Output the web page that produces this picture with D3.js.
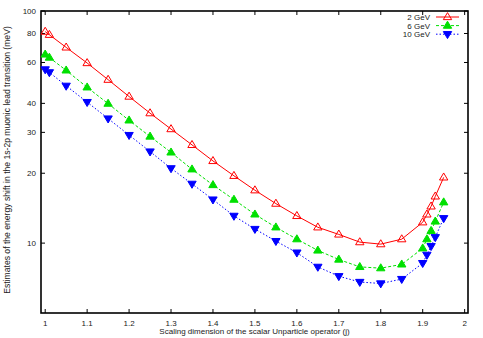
<!DOCTYPE html>
<html>
<head>
<meta charset="utf-8">
<script src="https://cdn.jsdelivr.net/npm/d3@7"></script>
<style>
  body { margin: 0; background: #fff; }
  text { font-family: "Liberation Sans", Arial, sans-serif; }
</style>
</head>
<body>
<div id="chart"></div>
<script>
// scaling dimension j
var xs = [1, 1.01, 1.05, 1.1, 1.15, 1.2, 1.25, 1.3, 1.35, 1.4, 1.45, 1.5, 1.55, 1.6,
          1.65, 1.7, 1.75, 1.8, 1.85, 1.9, 1.91, 1.92, 1.93, 1.95];
// energy shift estimates (meV)
var gev2 = [81.5, 79, 69.7, 59.7, 50.6, 42.8, 36.3, 31.0, 26.5, 22.6, 19.5, 16.9, 14.8, 13.1,
            11.7, 10.9, 10.1, 9.9, 10.4, 12.3, 13.3, 14.4, 15.9, 19.2];
var gev6 = [65, 63, 55.5, 46.9, 39.9, 33.8, 28.8, 24.6, 20.8, 17.8, 15.4, 13.3, 11.7, 10.4,
            9.3, 8.5, 7.9, 7.8, 8.1, 9.5, 10.4, 11.3, 12.4, 15.0];
var gev10 = [56, 54.4, 47.6, 40.5, 34.4, 29.2, 24.8, 21.0, 18.0, 15.4, 13.1, 11.5, 10.2, 9.1,
             7.9, 7.2, 6.8, 6.7, 7.0, 8.2, 8.9, 9.7, 10.6, 12.8];
var seriesNames = ["2 GeV", "6 GeV", "10 GeV"];
var xTicks = [1, 1.1, 1.2, 1.3, 1.4, 1.5, 1.6, 1.7, 1.8, 1.9, 2];
var yTicks = [10, 20, 30, 40, 60, 80, 100];

var margin = { top: 11, right: 15, bottom: 25, left: 41 },
    width = 483 - margin.left - margin.right,
    height = 338 - margin.top - margin.bottom;

var svg = d3.select("#chart").append("svg")
    .attr("width", 483)
    .attr("height", 338);

var g = svg.append("g")
    .attr("transform", "translate(" + margin.left + "," + margin.top + ")");

var x = d3.scaleLinear().domain([0.99, 2.008]).range([0, width]);
var y = d3.scaleLog().domain([5, 100]).range([height, 0]);

// ticks (inward, all four sides)
var tickLen = 4;
xTicks.forEach(function (t) {
    g.append("line").attr("x1", x(t)).attr("x2", x(t))
        .attr("y1", height).attr("y2", height - tickLen)
        .attr("stroke", "#000").attr("stroke-width", 1);
    g.append("line").attr("x1", x(t)).attr("x2", x(t))
        .attr("y1", 0).attr("y2", tickLen)
        .attr("stroke", "#000").attr("stroke-width", 1);
    g.append("text").attr("x", x(t)).attr("y", height + 13)
        .attr("text-anchor", "middle").attr("font-size", 8).attr("fill", "#222")
        .text(t);
});
yTicks.forEach(function (t) {
    g.append("line").attr("x1", 0).attr("x2", tickLen)
        .attr("y1", y(t)).attr("y2", y(t))
        .attr("stroke", "#000").attr("stroke-width", 1);
    g.append("line").attr("x1", width).attr("x2", width - tickLen)
        .attr("y1", y(t)).attr("y2", y(t))
        .attr("stroke", "#000").attr("stroke-width", 1);
    g.append("text").attr("x", -5).attr("y", y(t) + 3)
        .attr("text-anchor", "end").attr("font-size", 8).attr("fill", "#222")
        .text(t);
});

// frame
g.append("rect").attr("x", 0).attr("y", 0)
    .attr("width", width).attr("height", height)
    .attr("fill", "none").attr("stroke", "#000").attr("stroke-width", 1.6);

// axis labels
svg.append("text")
    .attr("x", margin.left + width / 2)
    .attr("y", 334)
    .attr("text-anchor", "middle").attr("font-size", 8).attr("fill", "#222")
    .text("Scaling dimension of the scalar Unparticle operator (j)");

svg.append("text")
    .attr("transform", "translate(10," + (margin.top + height / 2 - 2) + ") rotate(-90)")
    .attr("text-anchor", "middle").attr("font-size", 8.6).attr("fill", "#222")
    .text("Estimates of the energy shift in the 1s-2p muonic lead transition (meV)");

var series = [
    { name: seriesNames[0], vals: gev2, color: "#ff0000", dash: null, shape: "up", filled: false },
    { name: seriesNames[1], vals: gev6, color: "#00e000", dash: "3,2", shape: "up", filled: true },
    { name: seriesNames[2], vals: gev10, color: "#0000ff", dash: "1.5,2", shape: "down", filled: true }
];

var line = d3.line()
    .x(function (d) { return x(d[0]); })
    .y(function (d) { return y(d[1]); });

function marker(sel, s) {
    var r = 4.4;
    var p = s.shape === "up"
        ? "M0," + (-r) + "L" + (r * 0.95) + "," + (r * 0.6) + "L" + (-r * 0.95) + "," + (r * 0.6) + "Z"
        : "M0," + r + "L" + (r * 0.95) + "," + (-r * 0.6) + "L" + (-r * 0.95) + "," + (-r * 0.6) + "Z";
    sel.append("path").attr("d", p)
        .attr("fill", s.filled ? s.color : "none")
        .attr("stroke", s.color).attr("stroke-width", 1);
}

series.forEach(function (s, i) {
    var pts = xs.map(function (xv, k) { return [xv, s.vals[k]]; });
    g.append("path").datum(pts)
        .attr("d", line)
        .attr("fill", "none")
        .attr("stroke", s.color)
        .attr("stroke-width", 1)
        .attr("stroke-dasharray", s.dash);
    pts.forEach(function (d) {
        var m = g.append("g").attr("transform", "translate(" + x(d[0]) + "," + y(d[1]) + ")");
        marker(m, s);
    });

    // legend
    var ly = 6 + i * 8.6;
    g.append("text").attr("x", 389).attr("y", ly + 3)
        .attr("text-anchor", "end").attr("font-size", 8).attr("fill", "#222")
        .text(s.name);
    g.append("line").attr("x1", 395).attr("x2", 418)
        .attr("y1", ly).attr("y2", ly)
        .attr("stroke", s.color).attr("stroke-width", 1)
        .attr("stroke-dasharray", s.dash);
    var lm = g.append("g").attr("transform", "translate(406.5," + ly + ")");
    marker(lm, s);
});
</script>
</body>
</html>
